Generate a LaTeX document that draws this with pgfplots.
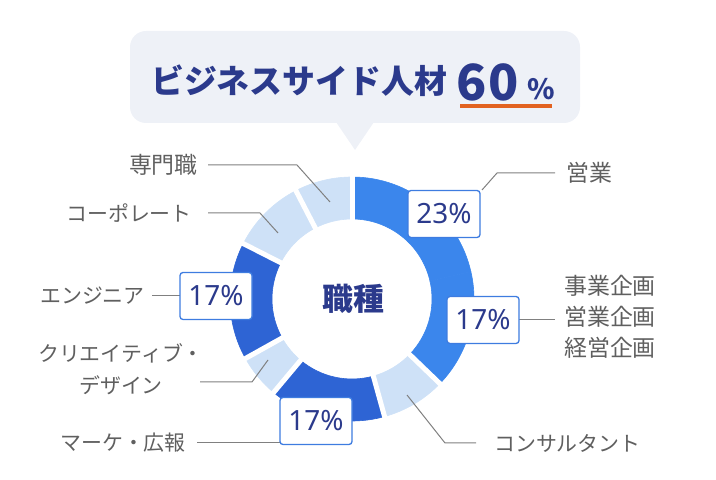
\documentclass[border=0pt]{standalone}
\usepackage{pgfplots}
\pgfplotsset{compat=1.18}
\usepackage{pgfplotstable}
\usepackage{fontspec}
\setmainfont{Noto Sans CJK JP}
\newfontfamily\latinfont{Noto Sans}

\definecolor{segA}{RGB}{59,134,236}
\definecolor{segD}{RGB}{46,100,212}
\definecolor{segL}{RGB}{206,225,247}
\definecolor{navy}{RGB}{43,58,140}
\definecolor{boxblue}{RGB}{62,124,224}
\definecolor{lbl}{RGB}{95,95,95}
\definecolor{leader}{RGB}{128,128,128}
\definecolor{bubble}{RGB}{238,241,247}
\definecolor{accent}{RGB}{226,98,32}

% ring shares, clockwise from the top, as drawn
\pgfplotstableread{
share col
21.4 segA
15.8 segA
8.5  segL
15.4 segD
5.8  segL
15.6 segD
9.9  segL
7.6  segL
}\shares

\tikzset{
  lab/.style={text=lbl, inner sep=0, font=\fontsize{23}{31}\selectfont},
  kana/.style={lab, font=\fontsize{21}{32}\selectfont},
  pct/.style={draw=boxblue, line width=1.3bp, fill=white, rounded corners=3bp,
    minimum width=72bp, minimum height=47bp, inner sep=0, text=navy,
    font=\latinfont\fontsize{28}{30}\selectfont},
  lead/.style={leader, line width=1bp},
}

\begin{document}
\begin{tikzpicture}
\begin{axis}[
  x=1bp, y=1bp,
  xmin=0, xmax=716, ymin=0, ymax=480,
  hide axis, clip=false,
]
\addplot[draw=none] coordinates {(0,0) (716,480)};

% donut ring
\pgfplotsextra{
  \path (352,181) coordinate (C);
  \pgfplotstablegetrowsof{\shares}
  \pgfmathtruncatemacro\lastrow{\pgfplotsretval-1}
  \xdef\angA{90}
  \foreach \i in {0,...,\lastrow}{
    \pgfplotstablegetelem{\i}{share}\of{\shares}
    \pgfmathsetmacro\angB{\angA-3.6*\pgfplotsretval}
    \pgfplotstablegetelem{\i}{col}\of{\shares}
    \edef\segcol{\pgfplotsretval}
    \filldraw[\segcol, line width=0.6bp] ([shift={(\angA:122bp)}]C) arc[start angle=\angA, end angle=\angB, radius=122bp]
      -- ([shift={(\angB:80bp)}]C) arc[start angle=\angB, end angle=\angA, radius=80bp] -- cycle;
    \xdef\angA{\angB}
  }
  % white gaps (none between the two sales segments)
  \xdef\angA{90}
  \foreach \i in {0,...,\lastrow}{
    \ifnum\i=1\else
      \draw[white, line width=5bp] ([shift={(\angA:76bp)}]C) -- ([shift={(\angA:126bp)}]C);
    \fi
    \pgfplotstablegetelem{\i}{share}\of{\shares}
    \pgfmathsetmacro\angB{\angA-3.6*\pgfplotsretval}
    \xdef\angA{\angB}
  }
}

% centre text
\node[text=navy, font=\fontsize{31}{36}\selectfont\bfseries] at (353,181) {職種};

% title bubble
\fill[bubble, rounded corners=16bp] (130,357) rectangle (580,449);
\fill[bubble] (336,358) -- (374,358) -- (355,330) -- cycle;
\node[anchor=base west, text=navy, inner sep=0, font=\fontsize{33}{38}\selectfont\bfseries] at (151,386) {ビジネスサイド人材};
\node[anchor=base west, text=navy, inner sep=0, font=\fontsize{50}{55}\selectfont\bfseries] at (456,379) {6\kern1.5bp 0};
\node[anchor=base west, text=navy, inner sep=0, font=\fontsize{28}{30}\selectfont\bfseries] at (527,380) {\%};
\fill[accent] (460,372) rectangle (552,375.5);

% leader lines
\draw[lead] (482,290) -- (497,307) -- (555,307);
\draw[lead] (519,160) -- (555,160);
\draw[lead] (407,85) -- (445,37) -- (476,37);
\draw[lead] (197,37) -- (282,37);
\draw[lead] (200,98) -- (252,98) -- (268,120);
\draw[lead] (152,184) -- (182,184);
\draw[lead] (208,267) -- (260,267) -- (278,247);
\draw[lead] (208,315) -- (297,315) -- (330,278);

% value boxes
\node[pct] at (444,266) {23\%};
\node[pct] at (483,160) {17\%};
\node[pct] at (216,184) {17\%};
\node[pct] at (316,59) {17\%};

% category labels
\node[lab, anchor=west] at (566,307) {営業};
\node[lab, anchor=west, align=left] at (564,163) {事業企画\\営業企画\\経営企画};
\node[kana, anchor=west] at (494,37) {コンサルタント};
\node[kana, anchor=east] at (186,37) {マーケ・広報};
\node[kana, align=center] at (121,111) {クリエイティブ・\\デザイン};
\node[kana, anchor=east] at (145,184) {エンジニア};
\node[kana, anchor=east] at (192,267) {コーポレート};
\node[lab, anchor=east] at (198,315) {専門職};
\end{axis}
\end{tikzpicture}
\end{document}
